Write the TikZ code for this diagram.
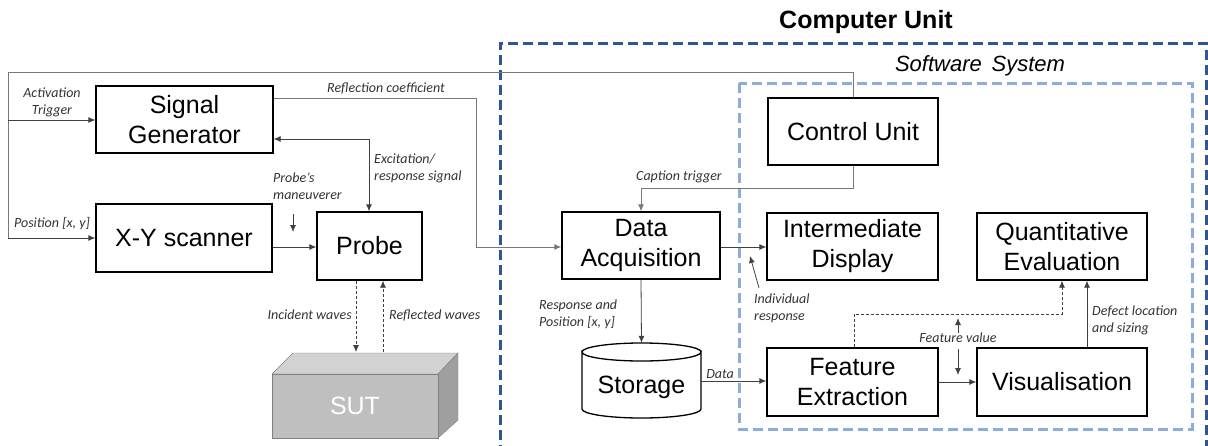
\documentclass[tikz,border=0pt]{standalone}
\usepackage{fontspec}
\setmainfont{Liberation Sans}
\newfontfamily\lblfont{Carlito}
\usetikzlibrary{arrows.meta}
\definecolor{cudark}{RGB}{47,85,151}
\definecolor{swlight}{RGB}{143,170,220}
\definecolor{linegray}{RGB}{120,120,120}
\begin{document}
\begin{tikzpicture}[x=1pt,y=-1pt,
  blk/.style={draw=black, line width=1.3pt, fill=white, align=center, inner sep=0pt,
    font=\fontsize{25}{30}\selectfont},
  lbl/.style={font=\lblfont\itshape\fontsize{14}{17}\selectfont, inner sep=0pt, text=black!80},
  conn/.style={draw=black!75, line width=0.8pt},
  loopl/.style={draw=linegray, line width=1pt},
  arr/.style={-{Latex[length=7pt,width=6pt]}},
  darr/.style={{Latex[length=7pt,width=6pt]}-{Latex[length=7pt,width=6pt]}},
  dsh/.style={dash pattern=on 3pt off 2pt},
]
\useasboundingbox (0,0) rectangle (1208,445);

% ---- containers
\draw[cudark, line width=3pt, dash pattern=on 10pt off 5pt] (500,470) -- (500,43) -- (1206,43) -- (1206,470);
\node[font=\bfseries\fontsize{25}{30}\selectfont, inner sep=0pt] (cutitle) at (866,22) {Computer Unit};
\draw[swlight, line width=3pt, dash pattern=on 10pt off 5pt] (739,83) rectangle (1192,429);
\node[font=\itshape\fontsize{22}{26}\selectfont, inner sep=0pt] (swtitle) at (980,66) {Software\, System};

% ---- loop lines (drawn beneath the control unit)
\coordinate (tr) at (853,72);
\coordinate (tl) at (8,72);
\coordinate (bl) at (8,238);
\coordinate (ct) at (853,188);
\draw[loopl] (tr) -- (tl) -- (bl);
\draw[loopl] (tr) -- (ct) -- (641,188);

% ---- blocks
\node[blk, minimum width=177pt, minimum height=67pt] (sg) at (184.5,119.5) {Signal\\Generator};
\node[blk, minimum width=176pt, minimum height=68pt] (xy) at (184,238) {X-Y scanner};
\node[blk, minimum width=105pt, minimum height=68pt] (probe) at (369.5,246) {Probe};
\node[blk, minimum width=158pt, minimum height=67pt] (da) at (641,245.5) {Data\\Acquisition};
\node[blk, minimum width=170pt, minimum height=67pt] (cu) at (853,131.5) {Control Unit};
\node[blk, minimum width=171pt, minimum height=67pt] (id) at (852.5,246.5) {Intermediate\\Display};
\node[blk, minimum width=170pt, minimum height=67pt] (qe) at (1062,246.5) {Quantitative\\Evaluation};
\node[blk, minimum width=171pt, minimum height=68pt] (fe) at (852.5,382) {Feature\\Extraction};
\node[blk, minimum width=170pt, minimum height=68pt] (vis) at (1062,382) {Visualisation};

% ---- storage cylinder
\draw[line width=1.3pt, fill=white] (582,352) -- (582,409) arc[start angle=180, end angle=360, x radius=59.5pt, y radius=9pt] -- (701,352) arc[start angle=0, end angle=-180, x radius=59.5pt, y radius=9pt] -- cycle;
\draw[line width=1.3pt] (582,352) arc[start angle=180, end angle=0, x radius=59.5pt, y radius=9pt];
\node[inner sep=0pt, minimum width=119pt, minimum height=75pt, font=\fontsize{25}{30}\selectfont] (st) at (641.5,380.5) {};
\node[inner sep=0pt, font=\fontsize{25}{30}\selectfont] (sttext) at (641.5,387) {Storage};

% ---- SUT box
\fill[gray!35, draw=gray] (272,374) -- (293,353) -- (458,353) -- (438,374) -- cycle;
\fill[gray!75, draw=gray] (438,374) -- (458,353) -- (458,420) -- (438,438) -- cycle;
\fill[gray!50, draw=gray] (272,374) rectangle (438,438);
\node[text=white, font=\fontsize{25}{30}\selectfont, inner sep=0pt] (sut) at (355,406) {SUT};
\coordinate (sutin) at (356,352);
\coordinate (sutout) at (383,352);

% ---- connectors
\draw[conn, arr] (8,120) -- (sg.west |- 0,120);
\draw[conn, arr] (bl) -- (xy.west);
\draw[conn, arr] (xy.east |- 0,247) -- (probe.west |- 0,247);
\draw[conn, arr] (293,214) -- (293,232);
\draw[loopl, arr] (sg.east |- 0,98) -- (476,98) -- (476,247) -- (da.west |- 0,247);
\draw[conn, darr] (sg.east |- 0,139) -- (369,139) -- (probe.north -| 369,0);
\draw[conn, arr, dsh] (probe.south -| 356,0) -- (sutin);
\draw[conn, arr, dsh] (sutout) -- (probe.south -| 383,0);
\draw[loopl, arr] (641,188) -- (da.north);
\draw[conn, arr] (da.south) -- (st.north);
\draw[conn, arr] (da.east |- 0,247) -- (id.west |- 0,247);
\draw[conn, arr] (759,288) -- (750,256);
\draw[conn, arr] (st.east |- 0,381) -- (fe.west |- 0,381);
\draw[conn, arr] (fe.east |- 0,382) -- (vis.west |- 0,382);
\draw[conn, arr] (958,333) -- (958,318);
\draw[conn, arr] (958,349) -- (958,375);
\draw[conn, arr, dsh] (fe.north -| 854,0) -- (854,314) -- (1062,314) -- (qe.south);
\draw[conn, arr] (vis.north -| 1087,0) -- (qe.south -| 1087,0);

% ---- labels
\node[lbl, align=center] (l1) at (52,102) {Activation\\Trigger};
\node[lbl] (l2) at (52,224) {Position [x, y]};
\node[lbl] (l3) at (386,88) {Reflection coefficient};
\node[lbl, align=left, anchor=west] (l4) at (374,168.5) {Excitation/\\response signal};
\node[lbl, align=left, anchor=west] (l5) at (273,186) {Probe’s\\maneuverer};
\node[lbl, anchor=east] (l6) at (352,315) {Incident waves};
\node[lbl, anchor=west] (l7) at (389,315) {Reflected waves};
\node[lbl] (l8) at (679,177) {Caption trigger};
\node[lbl, align=left, anchor=west] (l9) at (539,314.5) {Response and\\Position [x, y]};
\node[lbl] (l10) at (720,374) {Data};
\node[lbl, align=left, anchor=west] (l11) at (754,308.5) {Individual\\response};
\node[lbl] (l12) at (958,338) {Feature value};
\node[lbl, align=left, anchor=west] (l13) at (1092,320) {Defect location\\and sizing};
\end{tikzpicture}
\end{document}
